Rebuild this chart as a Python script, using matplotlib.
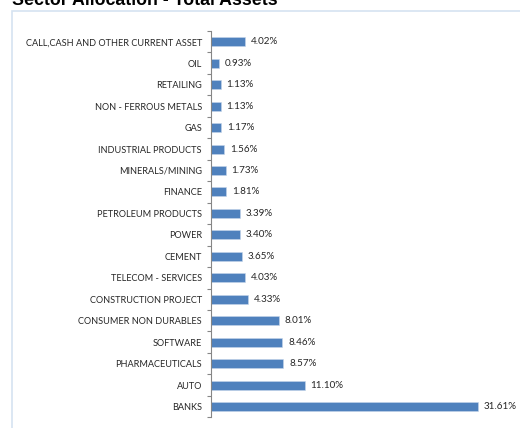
import matplotlib
matplotlib.use('Agg')
import numpy as np
from matplotlib import pyplot as plt
from matplotlib.patches import Rectangle

sectors = [
    'CALL,CASH AND OTHER CURRENT ASSET', 'OIL', 'RETAILING',
    'NON - FERROUS METALS', 'GAS', 'INDUSTRIAL PRODUCTS', 'MINERALS/MINING',
    'FINANCE', 'PETROLEUM PRODUCTS', 'POWER', 'CEMENT', 'TELECOM - SERVICES',
    'CONSTRUCTION PROJECT', 'CONSUMER NON DURABLES', 'SOFTWARE',
    'PHARMACEUTICALS', 'AUTO', 'BANKS',
]
weights = [4.02, 0.93, 1.13, 1.13, 1.17, 1.56, 1.73, 1.81, 3.39, 3.40,
           3.65, 4.03, 4.33, 8.01, 8.46, 8.57, 11.10, 31.61]
title = 'Sector Allocation - Total Assets'

W, H = 520, 428
fig = plt.figure(figsize=(W / 100, H / 100), dpi=100)

# light blue frame around the chart area (runs off right/bottom edge)
frame = Rectangle((11.5 / W, -0.1), 1.2, 1.1 - 11.5 / H, transform=fig.transFigure,
                  fill=False, ec='#d5e3f1', lw=1.2)
fig.add_artist(frame)

# title is clipped by the top edge, as in the source image
fig.text(12 / W, 1 - 5 / H, title, fontsize=12.8, fontweight='bold',
         family='Liberation Sans', va='baseline', ha='left')

ax = fig.add_axes([211 / W, 1 - 417.3 / H, (W - 211) / W, (417.3 - 31) / H])
y = np.arange(len(sectors))
ax.barh(y, weights, height=0.42, color='#4f81bd', ec='#c5d6ea', lw=0.4)
ax.set_xlim(0, (W - 211) / 8.44)
ax.set_ylim(len(sectors) - 0.5, -0.5)

for yi, v in zip(y, weights):
    ax.annotate('%.2f%%' % v, (v, yi), xytext=(4.3, 0), textcoords='offset points',
                va='center', ha='left', fontsize=7.1, family='Lato', color='#262626')

ax.set_yticks(np.arange(len(sectors) + 1) - 0.5)
ax.set_yticklabels([])
ax.set_yticks(y, minor=True)
ax.set_yticklabels(sectors, minor=True, fontsize=6.6, family='Lato', color='#262626')
ax.tick_params(axis='y', which='major', length=3, color='#868686', width=0.8)
ax.tick_params(axis='y', which='minor', length=0, pad=6.5)
ax.set_xticks([])
for s in ['top', 'right', 'bottom']:
    ax.spines[s].set_visible(False)
ax.spines['left'].set_color('#868686')
ax.spines['left'].set_linewidth(0.8)

fig.savefig('out.png', dpi=100)
